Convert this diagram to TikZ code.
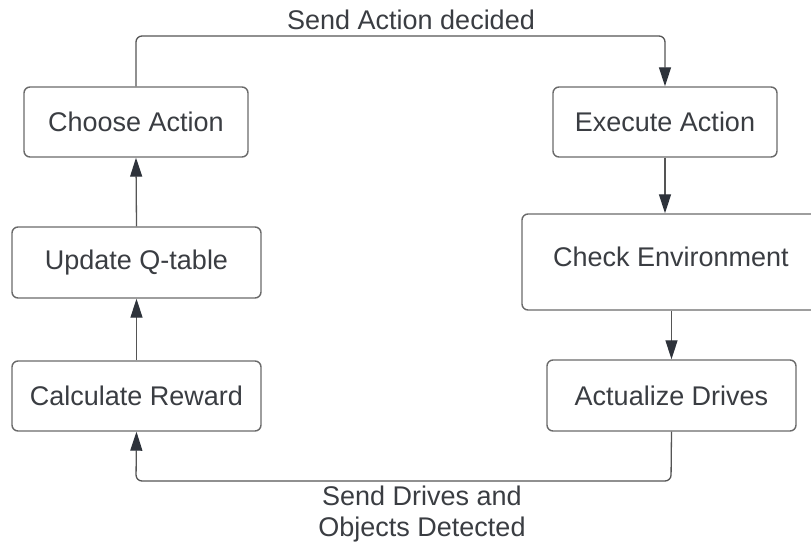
\documentclass[tikz,border=0pt]{standalone}
\usepackage{fontspec}
\setmainfont{Liberation Sans}
\usetikzlibrary{arrows.meta}
\definecolor{txtc}{HTML}{3A3D42}
\definecolor{boxc}{HTML}{6A6A6A}
\definecolor{linec}{HTML}{555555}
\definecolor{tipc}{HTML}{2E333B}
\tikzset{
  stepbox/.style={draw=boxc, line width=1.4pt, rounded corners=6pt, fill=white,
    text=txtc, font=\fontsize{27}{30}\selectfont, inner sep=0pt},
  conn/.style={draw=linec, line width=1.3pt, rounded corners=6pt,
    -{Triangle[length=19pt,width=12pt,fill=tipc,color=tipc]}},
  lbl/.style={text=txtc, font=\fontsize{27}{31}\selectfont, align=center, inner sep=0pt}
}
\begin{document}
\begin{tikzpicture}[x=1pt,y=-1pt]
\useasboundingbox (0,0) rectangle (811,551);
\node[stepbox, minimum width=224pt, minimum height=70pt] (choose) at (136,122) {Choose Action};
\node[stepbox, minimum width=249pt, minimum height=71pt] (update) at (136.5,262.5) {Update Q-table};
\node[stepbox, minimum width=249pt, minimum height=70pt] (reward) at (136.5,396) {Calculate Reward};
\node[stepbox, minimum width=224pt, minimum height=70pt] (execute) at (665,122) {Execute Action};
\node[stepbox, minimum width=298pt, minimum height=96pt, text height=22pt, text depth=14pt] (check) at (671,262) {Check Environment};
\node[stepbox, minimum width=249pt, minimum height=71pt] (actual) at (671.5,395.5) {Actualize Drives};

\coordinate (tl) at (136,36);
\coordinate (tr) at (665,36);
\coordinate (bl) at (136,481);
\coordinate (br) at (671,481);

\draw[conn] (choose.north) -- (tl) -- (tr) -- (execute.north);
\draw[conn] (execute.south) -- (execute.south |- check.north);
\draw[conn] (actual.north |- check.south) -- (actual.north);
\draw[conn] (actual.south) -- (br) -- (bl) -- (reward.south);
\draw[conn] (reward.north) -- (update.south);
\draw[conn] (update.north) -- (choose.south);

\node[lbl] (toplbl) at (411,20) {Send Action decided};
\node[lbl] (botlbl) at (422,514) {Send Drives and\\Objects Detected};
\end{tikzpicture}
\end{document}
